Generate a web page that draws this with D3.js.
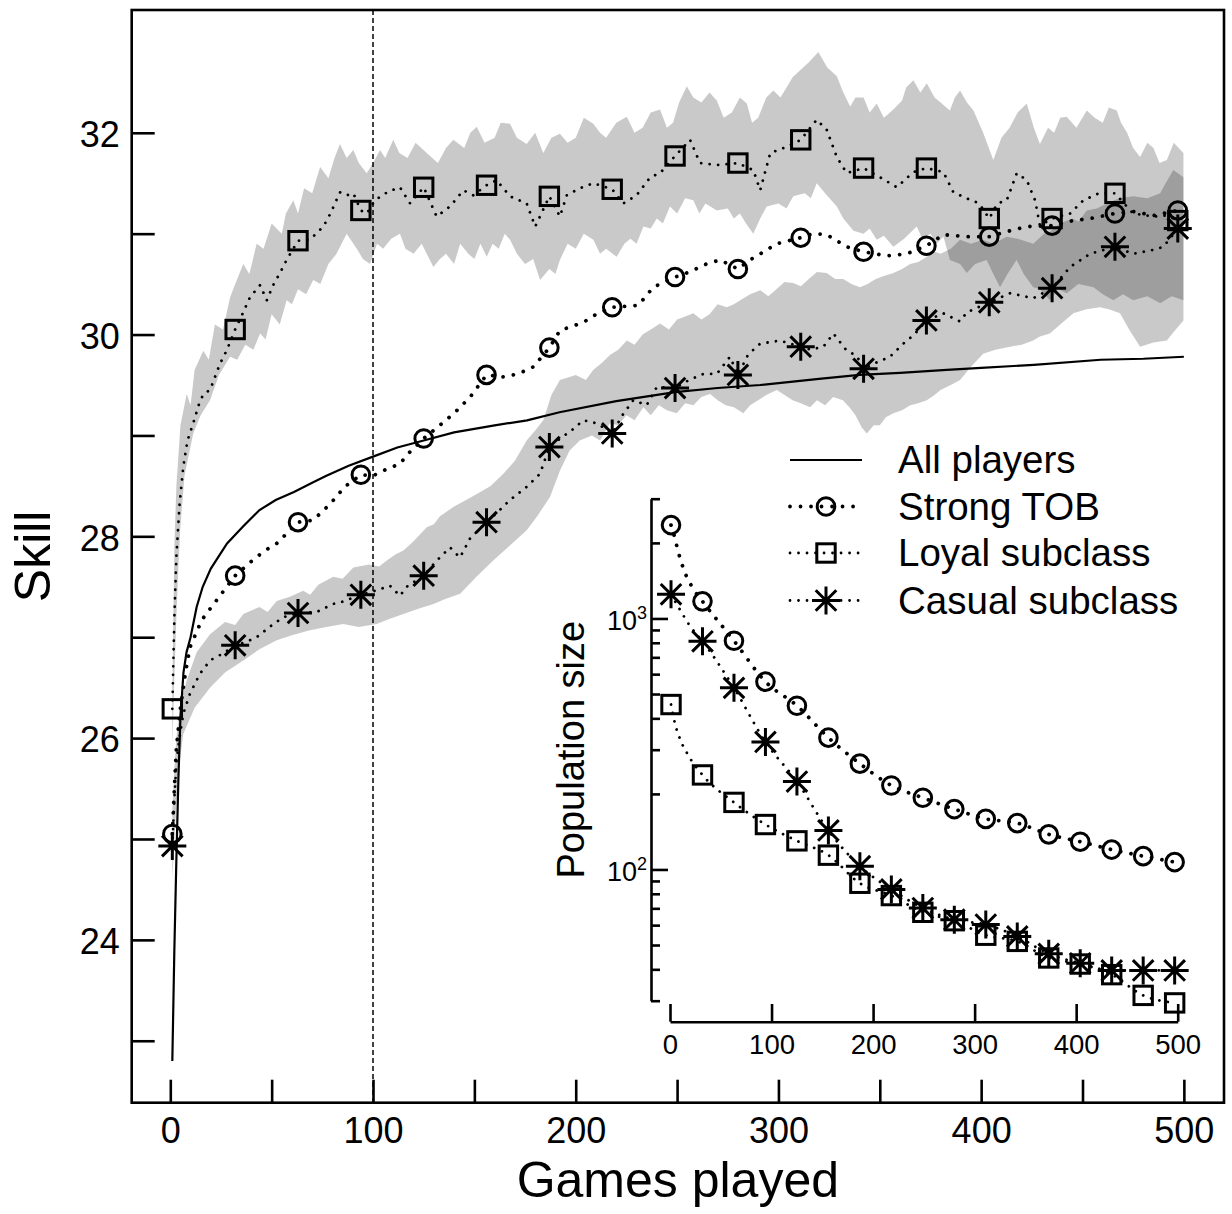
<!DOCTYPE html>
<html><head><meta charset="utf-8">
<script src="https://cdn.jsdelivr.net/npm/d3@7"></script>
<style>
html,body{margin:0;padding:0;background:#fff;}
svg{display:block;font-family:"Liberation Sans",Arial,Helvetica,sans-serif;}
</style></head>
<body>
<svg id="c" width="1232" height="1214"></svg>
<script>
// ---------------- DATA ----------------
const markerX = [1, 32, 63, 94, 125, 156, 187, 218, 249, 280, 311, 342, 373, 404, 435, 466, 497];
const strongMarkers = [25.05, 27.61, 28.14, 28.61, 28.97, 29.60, 29.87, 30.27, 30.57, 30.65, 30.96, 30.82, 30.88, 30.97, 31.08, 31.20, 31.23];
const loyalMarkers  = [26.29, 30.05, 30.93, 31.23, 31.46, 31.48, 31.37, 31.44, 31.77, 31.70, 31.93, 31.65, 31.65, 31.15, 31.15, 31.40, 31.13];
const casualMarkers = [24.93, 26.92, 27.24, 27.42, 27.61, 28.14, 28.885, 29.02, 29.47, 29.60, 29.88, 29.66, 30.14, 30.32, 30.46, 30.87, 31.05];

const allPlayers = [[1,22.8],[2,23.9],[3,24.8],[4,25.6],[5,26.2],[6.5,26.65],[8,26.85],[10,27.0],[13,27.3],[16,27.5],[20,27.68],[28,27.93],[36,28.1],[44,28.26],[52,28.36],[61,28.44],[70,28.53],[77,28.6],[88,28.7],[100,28.79],[112,28.88],[125,28.95],[140,29.03],[160,29.1],[176,29.15],[192,29.23],[220,29.34],[249,29.43],[270,29.47],[291,29.5],[320,29.56],[340,29.6],[360,29.62],[383,29.65],[400,29.67],[426,29.7],[459,29.75],[480,29.76],[500,29.78]];

const strongTrace = [[1,25.05],[2,25.5],[3,25.9],[5,26.3],[7.5,26.65],[9.7,26.9],[15.5,27.17],[19.6,27.28],[24.5,27.41],[32,27.61],[39.3,27.74],[46,27.85],[52.5,27.93],[63,28.14],[70.5,28.16],[78.8,28.32],[86,28.49],[94,28.61],[100,28.6],[105,28.65],[113.3,28.72],[117.4,28.82],[125,28.97],[134.7,29.13],[140.5,29.23],[147.9,29.38],[156,29.60],[164.3,29.58],[171.7,29.61],[179.1,29.68],[187,29.87],[192.2,30.04],[203.7,30.12],[210,30.2],[218,30.27],[230.9,30.29],[238.3,30.47],[249,30.57],[256,30.62],[264.6,30.70],[271.2,30.74],[280,30.65],[286,30.74],[291,30.80],[299.2,30.90],[311,30.96],[317,31.0],[323.8,30.99],[333.7,30.87],[342,30.82],[353.4,30.78],[363.3,30.80],[373,30.88],[381.4,30.99],[393,30.97],[404,30.97],[412.6,31.02],[422.5,31.07],[435,31.08],[445.5,31.13],[453.7,31.15],[466,31.20],[475,31.22],[485,31.18],[497,31.23]];

const loyalTrace = [[1,26.29],[2,27.2],[3,27.8],[4.5,28.3],[6.4,28.69],[8.5,28.95],[11.3,29.12],[14,29.3],[16.3,29.41],[19.6,29.45],[24.5,29.71],[28,29.85],[32,30.05],[35.5,30.2],[39.3,30.37],[44.3,30.49],[47.6,30.34],[51,30.5],[54.1,30.61],[57.4,30.74],[63,30.93],[68.9,30.94],[75.5,31.07],[79,31.2],[83.7,31.41],[87,31.38],[90.3,31.40],[94,31.23],[97,31.2],[100,31.3],[103.5,31.37],[108,31.42],[113.3,31.46],[118.3,31.30],[125,31.46],[131.4,31.17],[138,31.27],[144.6,31.43],[149.5,31.38],[156,31.48],[161,31.53],[167.6,31.37],[175.8,31.30],[180,31.07],[187,31.37],[192.2,31.17],[195.6,31.38],[202,31.45],[208.7,31.50],[218,31.44],[223.5,31.30],[230,31.38],[236.8,31.56],[241.6,31.60],[249,31.77],[256.4,31.93],[261.3,31.70],[269.6,31.68],[280,31.70],[287.6,31.63],[291,31.43],[296,31.80],[304,31.86],[311,31.93],[318.9,32.13],[323.8,32.03],[328.8,31.76],[333.7,31.60],[342,31.65],[350,31.56],[358.4,31.46],[366.6,31.61],[373,31.65],[381.4,31.61],[386.3,31.41],[392.9,31.35],[399,31.3],[404,31.15],[408,31.3],[412.6,31.33],[417.6,31.60],[422.5,31.53],[426.6,31.33],[429,31.08],[435,31.15],[443.9,31.20],[450.4,31.33],[458,31.4],[466,31.40],[475,31.20],[485,31.17],[491.6,31.18],[497,31.13]];

const casualTrace = [[1,24.93],[2,25.4],[3,25.75],[4.5,26.0],[6.4,26.24],[9.7,26.44],[14.7,26.64],[19.6,26.77],[26.1,26.84],[32,26.92],[37,26.95],[42.6,27.00],[50.8,27.13],[56,27.2],[63,27.24],[72.2,27.25],[80.4,27.33],[84.6,27.35],[94,27.42],[101,27.46],[108.4,27.51],[113.3,27.41],[116.6,27.50],[125,27.61],[131,27.75],[138,27.89],[142.9,27.79],[147.9,27.98],[156,28.14],[162,28.25],[167.6,28.36],[175.8,28.49],[182.4,28.62],[187,28.885],[193,28.98],[198,29.05],[203.7,29.15],[210.4,29.12],[218,29.02],[223,29.2],[228.4,29.35],[235,29.30],[240,29.48],[249,29.47],[256,29.55],[263,29.61],[269.6,29.61],[276.1,29.78],[280,29.60],[285,29.8],[291,29.91],[300.8,29.94],[311,29.88],[316,29.85],[322.2,29.88],[327.1,30.01],[333.7,29.84],[338.6,29.79],[342,29.66],[348,29.72],[355,29.78],[361.6,29.91],[367,30.0],[373,30.14],[381.4,30.21],[389.6,30.13],[392.9,30.22],[404,30.32],[414.3,30.41],[425.7,30.36],[435,30.46],[443.9,30.67],[453.7,30.80],[466,30.87],[475,30.80],[485,30.84],[489.9,30.87],[497,31.05]];

const loyalUpper = [[1,26.5],[2,27.9],[3,28.5],[5,29.1],[8.1,29.41],[10,29.3],[12,29.65],[16.3,29.84],[19,29.75],[22,30.1],[26,30.05],[29.5,30.37],[33,30.55],[36,30.7],[39,30.6],[42.6,30.90],[46,30.85],[50,31.1],[55,31.0],[57,31.2],[60.7,31.33],[63,31.2],[66,31.45],[70,31.4],[73.9,31.66],[78,31.55],[81,31.75],[83.7,31.89],[87,31.75],[90.3,31.83],[93,31.7],[96.9,31.60],[100,31.7],[103.5,31.83],[106,31.75],[110,31.93],[113,31.8],[117,31.75],[121,31.9],[126.5,31.80],[132,31.7],[136,31.85],[139.6,31.93],[145,31.85],[148,32.0],[151.2,32.06],[155,31.9],[160,31.95],[163,32.1],[167.6,32.09],[171,31.95],[175.8,31.89],[180,32.0],[184,31.80],[188,31.95],[192.2,31.99],[196,31.9],[200,31.95],[204,32.15],[208.7,32.09],[212,32.0],[215,31.95],[220,32.1],[225.2,32.16],[229,32.0],[233,32.05],[237,32.2],[241.6,32.23],[245,32.05],[248,32.1],[251,32.3],[254.8,32.46],[258,32.35],[262,32.3],[266,32.4],[269.6,32.32],[273,32.15],[277,32.2],[281,32.35],[284.4,32.29],[287,32.1],[290,32.15],[294,32.35],[297.5,32.42],[301,32.35],[304,32.45],[307,32.55],[310.7,32.62],[315,32.7],[319.7,32.80],[324,32.65],[328.8,32.56],[332,32.4],[335.4,32.26],[338,32.35],[342,32.35],[345,32.2],[348.5,32.29],[352,32.15],[356.7,32.23],[361,32.32],[363,32.45],[366.6,32.52],[370,32.4],[373.2,32.49],[377,32.35],[380,32.3],[384.6,32.22],[387,32.35],[389.6,32.42],[393,32.3],[396.2,32.22],[401,32.0],[406,31.73],[410,31.95],[414,32.05],[418,32.2],[422.5,32.29],[426,32.05],[429,31.89],[433,32.05],[436,32.0],[439,32.15],[442.2,32.16],[447,32.05],[452.1,32.22],[456,32.15],[460,32.1],[463,32.25],[466.9,32.22],[469,32.1],[472,32.0],[475,31.85],[478.4,31.76],[482,31.9],[485,31.85],[488,31.7],[491.6,31.73],[495,31.9],[499.8,31.80]];
const loyalLower = [[1,25.9],[2,26.6],[3,27.2],[4,27.7],[5,28.1],[7,28.6],[11.3,29.02],[15,29.2],[19.6,29.35],[24,29.6],[29.5,29.78],[33,29.75],[37,29.9],[41,29.85],[44.3,30.01],[47,29.95],[50,30.2],[54,30.1],[57.4,30.34],[60,30.3],[63,30.45],[67,30.4],[70.5,30.54],[74,30.5],[78,30.7],[82,30.8],[87,31.00],[92,30.85],[95,30.75],[98.5,30.70],[102,30.9],[105,30.85],[109,30.95],[113.3,31.00],[116,30.85],[120,30.8],[124,30.9],[129.8,30.67],[133,30.75],[136,30.8],[140,30.7],[143,30.90],[147,30.8],[150,30.75],[153,30.9],[156.1,30.77],[159,30.9],[162,30.85],[165,31.0],[167.6,30.94],[171,30.8],[175,30.7],[179,30.75],[182.4,30.54],[187,30.65],[190,30.6],[192.2,30.74],[196,30.9],[200,30.85],[204,31.0],[208.7,30.94],[212,30.8],[215,30.85],[220.2,30.77],[224,30.9],[227,30.95],[230,30.9],[233.4,31.07],[237,31.05],[240,31.15],[243,31.1],[246.5,31.27],[250,31.2],[254,31.35],[258,31.33],[261,31.2],[264,31.3],[269.6,31.23],[275,31.25],[278,31.15],[281,31.20],[284,31.1],[287.6,31.00],[291,31.15],[294.2,31.27],[300,31.3],[304,31.25],[307.3,31.37],[313,31.4],[316,31.35],[318.9,31.50],[323,31.4],[328.8,31.27],[332,31.15],[337,31.03],[342,31.0],[345,31.05],[348.5,30.94],[352,30.98],[356.7,30.87],[362,30.95],[368.2,31.07],[371,30.95],[375,31.0],[378,30.9],[381.4,30.97],[384.6,30.74],[389.6,30.7],[392.9,30.61],[397,30.7],[402.7,30.74],[406,30.6],[409.3,30.47],[413,30.6],[417.5,30.74],[421,30.6],[425.7,30.47],[429,30.45],[433.9,30.34],[438,30.45],[442.2,30.41],[448,30.5],[455.4,30.47],[460,30.4],[465.2,30.34],[470,30.4],[475,30.34],[482,30.38],[488.3,30.31],[494,30.38],[499.8,30.34]];

const casualUpper = [[1,25.3],[2,25.7],[3,26.0],[5,26.35],[8.1,26.57],[13,26.85],[19.6,27.03],[27,27.15],[32,27.12],[36,27.23],[44,27.3],[48,27.25],[52.5,27.36],[59,27.4],[65.6,27.46],[69,27.42],[73,27.52],[80.4,27.60],[85,27.58],[90.3,27.69],[98,27.72],[103,27.7],[106.8,27.76],[111,27.82],[115,27.86],[120,27.95],[126.5,28.09],[130,28.12],[133,28.2],[139.6,28.29],[145,28.35],[151.2,28.42],[158,28.5],[164.3,28.62],[170,28.75],[175.8,28.95],[180,29.05],[184,29.15],[188,29.4],[192.2,29.55],[200,29.6],[205,29.55],[208.7,29.65],[213,29.72],[217,29.8],[221,29.85],[225.2,29.94],[229,29.9],[233,30.0],[237,30.05],[241.6,30.11],[246,30.05],[250,30.15],[254,30.18],[258,30.21],[262,30.15],[266,30.2],[270,30.3],[274.5,30.27],[278,30.3],[282,30.35],[286,30.4],[291,30.44],[295,30.38],[299,30.45],[303,30.52],[307.3,30.51],[311,30.48],[315,30.55],[319,30.62],[323.8,30.61],[328,30.55],[332,30.55],[336,30.5],[340.2,30.47],[344,30.5],[348,30.55],[352,30.58],[356.7,30.61],[361,30.65],[365,30.7],[369,30.72],[373.2,30.77],[377,30.82],[380,30.8],[385,30.85],[389.6,30.94],[395,30.9],[401,30.94],[406,30.9],[412.6,30.97],[418,30.95],[425.7,30.90],[431,31.0],[434,31.02],[438.8,31.10],[445,31.15],[448,31.12],[452.1,31.23],[457,31.25],[462,31.30],[468,31.35],[475,31.37],[482,31.35],[488.3,31.40],[491,31.5],[494.8,31.63],[499.8,31.56]];
const casualLower = [[1,24.6],[2,25.0],[3,25.35],[4.5,25.75],[6.4,26.04],[12,26.3],[19.6,26.50],[27,26.65],[36,26.77],[44,26.88],[52.5,26.97],[60,27.02],[68.9,27.07],[77,27.1],[85.3,27.13],[93,27.1],[101.8,27.13],[108,27.18],[115,27.23],[122,27.28],[129.8,27.33],[136,27.38],[143,27.43],[151,27.6],[159.3,27.76],[167,27.9],[175.8,28.06],[181,28.2],[187.3,28.39],[192.2,28.65],[197,28.85],[202,28.95],[208,29.0],[212,28.95],[216.9,29.12],[221,29.1],[225,29.2],[229,29.15],[233.4,29.28],[237,29.2],[241,29.3],[245,29.25],[249.8,29.22],[254,29.32],[258,29.3],[262,29.38],[266.3,29.41],[270,29.35],[274,29.3],[278,29.28],[282.7,29.22],[286,29.3],[290,29.35],[294,29.4],[299.2,29.45],[303,29.4],[307,29.35],[311,29.32],[315.6,29.28],[319,29.35],[323,29.3],[327,29.38],[331.8,29.35],[335,29.28],[338,29.2],[341,29.08],[343.6,29.02],[347,29.1],[350,29.1],[353,29.18],[356.7,29.22],[361,29.25],[365,29.3],[369,29.32],[373.2,29.35],[377,29.4],[380,29.45],[385,29.5],[389.6,29.55],[395,29.68],[401,29.81],[407,29.85],[414.3,29.88],[420,29.9],[425.7,29.94],[429,29.98],[433.9,30.01],[439,30.1],[445.5,30.21],[452,30.25],[458.6,30.27],[463,30.25],[468.5,30.21],[473,30.05],[478.4,29.88],[485,29.92],[491.6,29.94],[496,30.05],[499.8,30.14]];

// inset population sizes
const strongPop = [2355, 1170, 815, 560, 449, 335, 264, 216, 193, 174, 159, 153, 138, 129, 120, 113, 107];
const loyalPop  = [454, 238, 185, 151, 130, 114, 88.1, 78.7, 67.5, 62.5, 54.7, 51.7, 44.4, 42.0, 38.1, 31.5, 29.4];
const casualPop = [1248, 811, 529, 322, 224, 143, 103, 83.3, 70.2, 63.1, 60.3, 54.1, 46.1, 42.3, 39.6, 39.6, 39.6];
const strongPopStart = [[4,2150],[8,1850],[14,1550],[22,1330]];
const loyalPopStart  = [[5,380],[10,330],[18,285]];
const casualPopStart = [[10,1080],[20,930]];

const xTicks = [0,50,100,150,200,250,300,350,400,450,500];
const xLabels = [0,100,200,300,400,500];
const yTicks = [23,24,25,26,27,28,29,30,31,32];
const yLabels = [24,26,28,30,32];
const insetXTicks = [0,100,200,300,400,500];
const insetYTicks = [30,40,50,60,70,80,90,100,200,300,400,500,600,700,800,900,1000,2000,3000];
const insetYLabels = [{v:100,exp:"2"},{v:1000,exp:"3"}];
const legendItems = [
  {label:"All players", type:"solid"},
  {label:"Strong TOB", type:"circle"},
  {label:"Loyal subclass", type:"square"},
  {label:"Casual subclass", type:"star"}
];

// ---------------- DRAW ----------------
const svg = d3.select("#c");
const L=131.7, T=10, R=1224, B=1102.7;
const x = d3.scaleLinear().domain([-19.04, 519.8]).range([L, R]);
const y = d3.scaleLinear().domain([22.386, 33.217]).range([B, T]);

svg.append("defs").append("clipPath").attr("id","clip")
  .append("rect").attr("x",L).attr("y",T).attr("width",R-L).attr("height",B-T);
const plot = svg.append("g").attr("clip-path","url(#clip)");

function band(upper, lower){
  const pts = upper.concat(lower.slice().reverse());
  return d3.line().x(d=>x(d[0])).y(d=>y(d[1]))(pts) + "Z";
}
plot.append("path").attr("d", band(loyalUpper, loyalLower)).attr("fill","#000").attr("fill-opacity",0.21);
plot.append("path").attr("d", band(casualUpper, casualLower)).attr("fill","#000").attr("fill-opacity",0.21);

// vertical dashed line at 100
plot.append("line").attr("x1",x(100)).attr("x2",x(100)).attr("y1",T).attr("y2",B)
  .attr("stroke","#000").attr("stroke-width",1.5).attr("stroke-dasharray","5,3");

const line = d3.line().x(d=>x(d[0])).y(d=>y(d[1]));
plot.append("path").attr("d", line(allPlayers)).attr("fill","none").attr("stroke","#000").attr("stroke-width",2.2);

const dotStrong = {w:3.8, dash:"0.01,10.5"};
const dotThin = {w:2.8, dash:"0.01,8.5"};
function dotted(g, d, st){
  g.append("path").attr("d", d).attr("fill","none").attr("stroke","#000")
   .attr("stroke-width",st.w).attr("stroke-linecap","round").attr("stroke-dasharray",st.dash);
}
dotted(plot, line(strongTrace), dotStrong);
dotted(plot, line(loyalTrace), dotThin);
dotted(plot, line(casualTrace), dotThin);

function marker(g, type, cx, cy){
  if(type==="circle"){
    g.append("circle").attr("cx",cx).attr("cy",cy).attr("r",8.8)
      .attr("fill","none").attr("stroke","#000").attr("stroke-width",3);
  } else if(type==="square"){
    g.append("rect").attr("x",cx-9.2).attr("y",cy-9.2).attr("width",18.4).attr("height",18.4)
      .attr("fill","none").attr("stroke","#000").attr("stroke-width",3);
  } else if(type==="star"){
    const r=14, d=10.3;
    g.append("path").attr("d",`M${cx-r},${cy}H${cx+r}M${cx},${cy-r}V${cy+r}M${cx-d},${cy-d}L${cx+d},${cy+d}M${cx-d},${cy+d}L${cx+d},${cy-d}`)
      .attr("fill","none").attr("stroke","#000").attr("stroke-width",3);
  }
}
markerX.forEach((mx,i)=>{
  marker(plot,"circle",x(mx),y(strongMarkers[i]));
  marker(plot,"square",x(mx),y(loyalMarkers[i]));
  marker(plot,"star",x(mx),y(casualMarkers[i]));
});

// frame
svg.append("rect").attr("x",L).attr("y",T).attr("width",R-L).attr("height",B-T)
  .attr("fill","none").attr("stroke","#000").attr("stroke-width",2.6);

// axes
const xAxis = svg.append("g").attr("transform",`translate(0,${B})`)
  .call(d3.axisBottom(x).tickValues(xTicks).tickSize(-23).tickFormat(d=>xLabels.includes(d)?d:""));
xAxis.select(".domain").remove();
xAxis.selectAll(".tick line").attr("stroke-width",2.6);
xAxis.selectAll(".tick text").attr("y",40.6).attr("dy",0).attr("font-size",36)
  .attr("font-family","Liberation Sans, Arial, sans-serif").attr("fill","#000");

const yAxis = svg.append("g").attr("transform",`translate(${L},0)`)
  .call(d3.axisLeft(y).tickValues(yTicks).tickSize(-23).tickFormat(d=>yLabels.includes(d)?d:""));
yAxis.select(".domain").remove();
yAxis.selectAll(".tick line").attr("stroke-width",2.6);
yAxis.selectAll(".tick text").attr("x",-12).attr("dy","0.38em").attr("font-size",36)
  .attr("font-family","Liberation Sans, Arial, sans-serif").attr("fill","#000");

svg.append("text").attr("x",(L+R)/2).attr("y",1197).attr("text-anchor","middle")
  .attr("font-size",50).text("Games played");
svg.append("text").attr("transform",`translate(50,${(T+B)/2}) rotate(-90)`).attr("text-anchor","middle")
  .attr("font-size",50).text("Skill");

// legend
const legY = [460, 506.5, 553, 600.5];
const lg = svg.append("g");
legendItems.forEach((it,i)=>{
  const ly = legY[i];
  if(it.type==="solid"){
    lg.append("line").attr("x1",790).attr("x2",862).attr("y1",ly).attr("y2",ly).attr("stroke","#000").attr("stroke-width",2.2);
  } else {
    dotted(lg, `M790,${ly}H862`, it.type==="circle"?dotStrong:dotThin);
    marker(lg, it.type, 826, ly);
  }
  lg.append("text").attr("x",898).attr("y",ly+13).attr("font-size",38.5).text(it.label);
});

// ---------------- INSET ----------------
const xi = d3.scaleLinear().domain([0,500]).range([670, 1177.7]);
const yi = d3.scaleLog().domain([30,3000]).range([1000.7, 498.7]);
const inset = svg.append("g");

const ixAxis = inset.append("g").attr("transform","translate(0,1021.7)")
  .call(d3.axisBottom(xi).tickValues(insetXTicks).tickSize(-17.7).tickSizeOuter(0).tickFormat(d3.format("d")));
ixAxis.select(".domain").attr("stroke-width",2.6);
ixAxis.selectAll(".tick line").attr("stroke-width",2.6);
ixAxis.selectAll(".tick text").attr("y",32).attr("dy",0).attr("font-size",27.5)
  .attr("font-family","Liberation Sans, Arial, sans-serif").attr("fill","#000");

const iyAxis = inset.append("g").attr("transform","translate(651,0)")
  .call(d3.axisLeft(yi).tickValues(insetYTicks).tickSize(-9).tickSizeOuter(0).tickFormat(""));
iyAxis.select(".domain").attr("stroke-width",2.6);
iyAxis.selectAll(".tick line").attr("stroke-width",2.6)
  .attr("x2",d=> (d===100||d===1000)?17:9);
insetYLabels.forEach(o=>{
  const t = inset.append("text").attr("x",647).attr("y",yi(o.v)+12).attr("text-anchor","end").attr("font-size",27);
  t.append("tspan").text("10");
  t.append("tspan").attr("dy",-11).attr("font-size",18).text(o.exp);
});
inset.append("text").attr("transform",`translate(584,${(498.7+1000.7)/2}) rotate(-90)`)
  .attr("text-anchor","middle").attr("font-size",38).text("Population size");

const iline = d3.line().x(d=>xi(d[0])).y(d=>yi(d[1])).curve(d3.curveMonotoneX);
function seriesPts(vals, start){
  const pts = markerX.map((mx,i)=>[mx, vals[i]]);
  return [pts[0]].concat(start, pts.slice(1));
}
dotted(inset, iline(seriesPts(strongPop, strongPopStart)), dotStrong);
dotted(inset, iline(seriesPts(loyalPop, loyalPopStart)), dotThin);
dotted(inset, iline(seriesPts(casualPop, casualPopStart)), dotThin);
markerX.forEach((mx,i)=>{
  marker(inset,"circle",xi(mx),yi(strongPop[i]));
  marker(inset,"square",xi(mx),yi(loyalPop[i]));
  marker(inset,"star",xi(mx),yi(casualPop[i]));
});
</script>
</body></html>
